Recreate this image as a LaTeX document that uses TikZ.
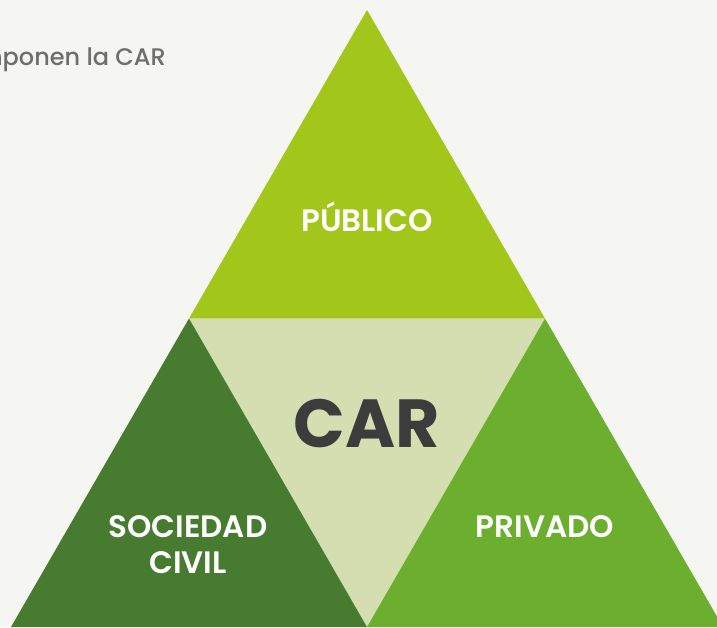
\documentclass[tikz,border=0pt]{standalone}
\usepackage{fontspec}
\setmainfont{Poppins}[BoldFont={Poppins SemiBold}]
\newfontfamily\medio{Poppins Medium}
\newfontfamily\grueso{Poppins Bold}
\usepackage{tikz}
\usetikzlibrary{positioning}

\definecolor{fondo}{HTML}{F5F5F1}
\definecolor{publico}{HTML}{A3C61A}
\definecolor{centro}{HTML}{D4DEB0}
\definecolor{civil}{HTML}{477C30}
\definecolor{privado}{HTML}{6CAF2F}
\definecolor{gris}{HTML}{3C3C3C}
\definecolor{titulo}{HTML}{6E6E6E}

\tikzset{
    sector/.style={font=\bfseries\fontsize{31}{36}\selectfont, text=white, align=center, inner sep=0pt},
}

\begin{document}
\begin{tikzpicture}[x=1pt,y=-1pt]
        \fill[fondo] (0,0) rectangle (717,627);
        \useasboundingbox (0,0) rectangle (717,627);
        \clip (0,0) rectangle (717,627);

        \coordinate (A) at (367,10);
        \coordinate (ML) at (189,318.5);
        \coordinate (MR) at (545,318.5);
        \coordinate (BL) at (11,627);
        \coordinate (BM) at (367,627);
        \coordinate (BR) at (723,627);

        \fill[publico] (A) -- (ML) -- (MR) -- cycle;
        \fill[centro] (ML) -- (MR) -- (BM) -- cycle;
        \fill[civil] (ML) -- (BL) -- (BM) -- cycle;
        \fill[privado] (MR) -- (BM) -- (BR) -- cycle;

        \node[anchor=base east, text=titulo, font=\medio\fontsize{24}{28}\selectfont, inner sep=0pt] (titulo) at (166,65) {mponen la CAR};

        \node[sector] (pub) at (367,217) {PÚBLICO};
        \node[sector] (soc) at (188,545) {SOCIEDAD\\CIVIL};
        \node[sector] (pri) at (545,527) {PRIVADO};
        \node[text=gris, font=\grueso\fontsize{68}{70}\selectfont, inner sep=0pt] (car) at (367,424) {CAR};
    \end{tikzpicture}
\end{document}
